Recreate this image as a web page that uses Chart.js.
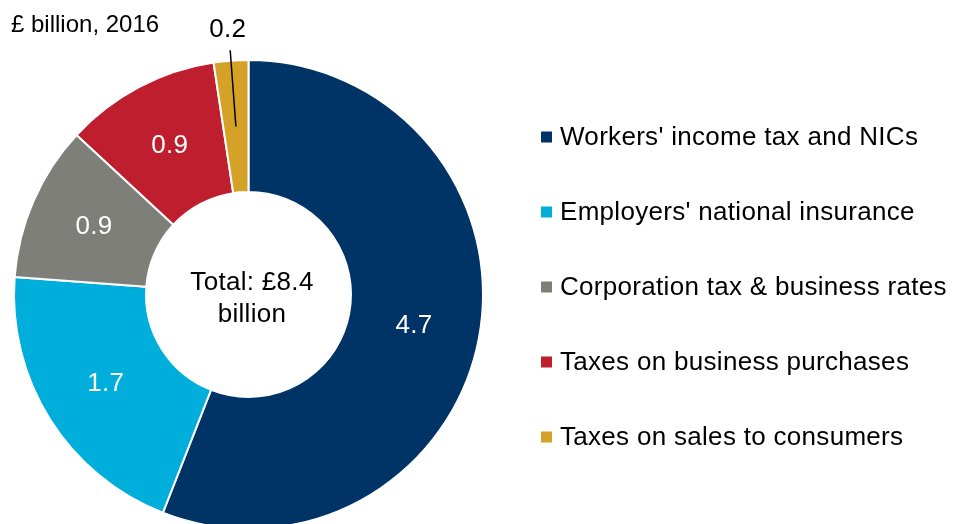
<!DOCTYPE html>
<html>
<head>
<meta charset="utf-8">
<script src="https://cdn.jsdelivr.net/npm/chart.js@4/dist/chart.umd.min.js"></script>
<style>
  html, body { margin: 0; padding: 0; background: #fff; overflow: hidden; }
  #wrap { width: 957px; height: 524px; overflow: hidden; position: relative; }
  canvas { display: block; }
</style>
</head>
<body>
<div id="wrap"><canvas id="c" width="957" height="540"></canvas></div>
<script>
// Tax contributions, £ billion, 2016
const categories = [
  "Workers' income tax and NICs",
  "Employers' national insurance",
  "Corporation tax & business rates",
  "Taxes on business purchases",
  "Taxes on sales to consumers"
];
const values = [4.7, 1.7, 0.9, 0.9, 0.2];
const colors = ['#003366', '#00AEDB', '#7F7F7A', '#BE1E2D', '#D4A227'];
const unitLabel = '£ billion, 2016';
const totalLines = ['Total: £8.4', 'billion'];

const FONT = '"Liberation Sans", Arial, sans-serif';
const FS = 26;

// Value labels: inside each slice, except the thin one which gets a leader line
const valueLabels = {
  id: 'valueLabels',
  afterDatasetsDraw(chart) {
    const ctx = chart.ctx;
    const arcs = chart.getDatasetMeta(0).data;
    ctx.save();
    ctx.font = FS + 'px ' + FONT;
    ctx.letterSpacing = '0.3px';
    ctx.textAlign = 'center';
    ctx.textBaseline = 'middle';
    arcs.forEach((arc, i) => {
      const p = arc.getProps(['x', 'y', 'startAngle', 'endAngle', 'innerRadius', 'outerRadius'], true);
      const mid = (p.startAngle + p.endAngle) / 2;
      const rMid = (p.innerRadius + p.outerRadius) / 2;
      const text = values[i].toFixed(1);
      const span = p.endAngle - p.startAngle;
      if (span > 0.3) {
        ctx.fillStyle = '#ffffff';
        ctx.fillText(text, p.x + rMid * Math.cos(mid), p.y + rMid * Math.sin(mid));
      } else {
        const r1 = p.outerRadius + 10.5;
        const r2 = p.outerRadius + 31;
        ctx.strokeStyle = '#000000';
        ctx.lineWidth = 1.5;
        ctx.beginPath();
        ctx.moveTo(p.x + rMid * Math.cos(mid), p.y + rMid * Math.sin(mid));
        ctx.lineTo(p.x + r1 * Math.cos(mid), p.y + r1 * Math.sin(mid));
        ctx.stroke();
        ctx.fillStyle = '#000000';
        ctx.fillText(text, p.x + r2 * Math.cos(mid) - 1, p.y + r2 * Math.sin(mid));
      }
    });
    ctx.restore();
  }
};

// Total in the hole, unit note at top-left, and the legend on the right
const decorations = {
  id: 'decorations',
  afterDraw(chart) {
    const ctx = chart.ctx;
    const arc = chart.getDatasetMeta(0).data[0];
    const cx = arc.x, cy = arc.y;
    ctx.save();
    ctx.fillStyle = '#000000';
    ctx.font = FS + 'px ' + FONT;
    ctx.letterSpacing = '0.3px';
    ctx.textBaseline = 'alphabetic';
    ctx.textAlign = 'center';
    ctx.fillText(totalLines[0], cx + 3.5, cy - 4.5);
    ctx.fillText(totalLines[1], cx + 3.5, cy + 27);

    ctx.font = '24px ' + FONT;
    ctx.letterSpacing = '0px';
    ctx.textAlign = 'left';
    ctx.fillText(unitLabel, 11, 32);

    ctx.font = FS + 'px ' + FONT;
    ctx.letterSpacing = '0.3px';
    ctx.textBaseline = 'middle';
    const lx = 541, tx = 560, y0 = 137, step = 75, box = 11;
    categories.forEach((name, i) => {
      const y = y0 + i * step;
      ctx.fillStyle = colors[i];
      ctx.fillRect(lx, y - box / 2, box, box);
      ctx.fillStyle = '#000000';
      ctx.fillText(name, tx, y + 1);
    });
    ctx.restore();
  }
};

new Chart(document.getElementById('c'), {
  type: 'doughnut',
  data: {
    labels: categories,
    datasets: [{
      data: values,
      backgroundColor: colors,
      borderColor: '#ffffff',
      borderWidth: 2,
      hoverOffset: 0
    }]
  },
  options: {
    responsive: false,
    animation: false,
    cutout: '43.7%',
    layout: { padding: { left: 13, top: 59, right: 473, bottom: 10 } },
    plugins: {
      legend: { display: false },
      tooltip: { enabled: false }
    }
  },
  plugins: [valueLabels, decorations]
});
</script>
</body>
</html>
